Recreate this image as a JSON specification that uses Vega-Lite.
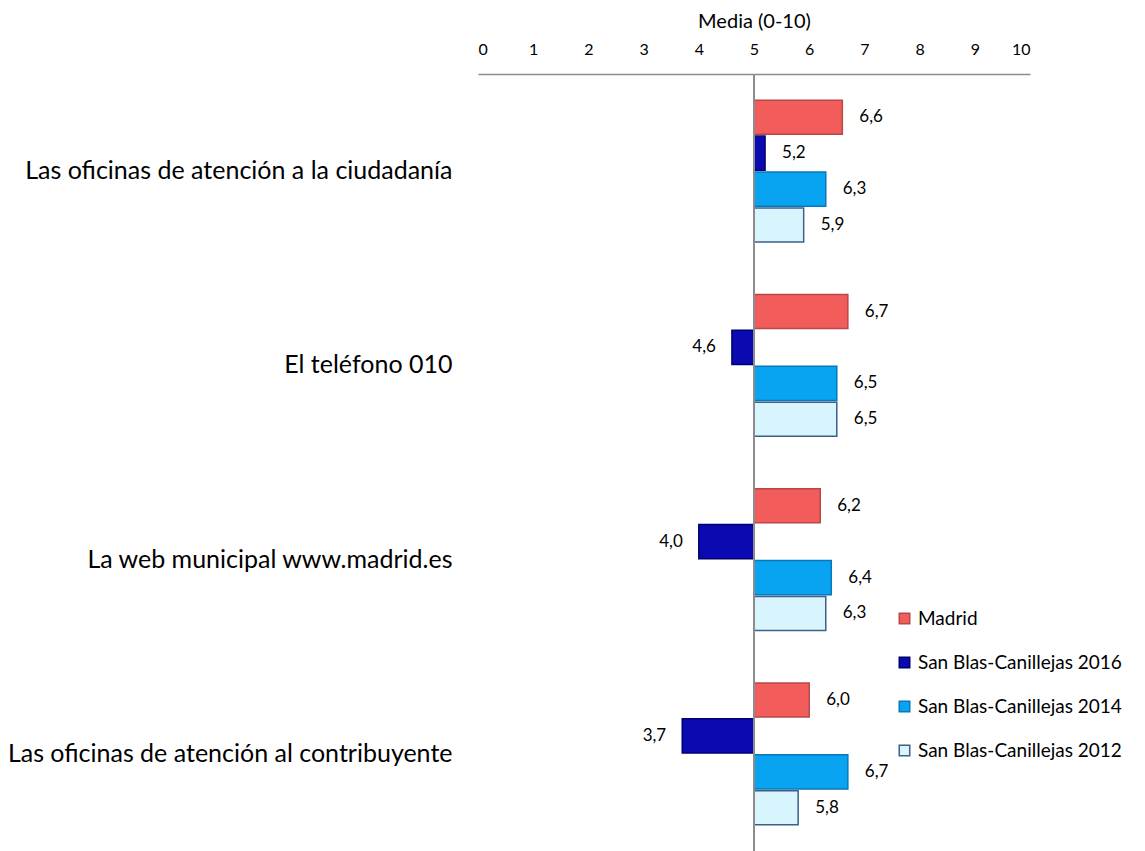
{
  "$schema": "https://vega.github.io/schema/vega-lite/v6.json",
  "width": 552,
  "height": 777,
  "autosize": {"type": "none"},
  "padding": {"left": 478, "top": 74, "right": 115, "bottom": 0},
  "background": "white",
  "config": {
    "font": "Lato",
    "view": {"stroke": null},
    "locale": {"number": {"decimal": ",", "thousands": ".", "grouping": [3], "currency": ["", " €"]}}
  },
  "data": {
    "values": [
      {"servicio": "Las oficinas de atención a la ciudadanía", "serie": "Madrid", "valor": 6.6},
      {"servicio": "Las oficinas de atención a la ciudadanía", "serie": "San Blas-Canillejas 2016", "valor": 5.2},
      {"servicio": "Las oficinas de atención a la ciudadanía", "serie": "San Blas-Canillejas 2014", "valor": 6.3},
      {"servicio": "Las oficinas de atención a la ciudadanía", "serie": "San Blas-Canillejas 2012", "valor": 5.9},
      {"servicio": "El teléfono 010", "serie": "Madrid", "valor": 6.7},
      {"servicio": "El teléfono 010", "serie": "San Blas-Canillejas 2016", "valor": 4.6},
      {"servicio": "El teléfono 010", "serie": "San Blas-Canillejas 2014", "valor": 6.5},
      {"servicio": "El teléfono 010", "serie": "San Blas-Canillejas 2012", "valor": 6.5},
      {"servicio": "La web municipal www.madrid.es", "serie": "Madrid", "valor": 6.2},
      {"servicio": "La web municipal www.madrid.es", "serie": "San Blas-Canillejas 2016", "valor": 4.0},
      {"servicio": "La web municipal www.madrid.es", "serie": "San Blas-Canillejas 2014", "valor": 6.4},
      {"servicio": "La web municipal www.madrid.es", "serie": "San Blas-Canillejas 2012", "valor": 6.3},
      {"servicio": "Las oficinas de atención al contribuyente", "serie": "Madrid", "valor": 6.0},
      {"servicio": "Las oficinas de atención al contribuyente", "serie": "San Blas-Canillejas 2016", "valor": 3.7},
      {"servicio": "Las oficinas de atención al contribuyente", "serie": "San Blas-Canillejas 2014", "valor": 6.7},
      {"servicio": "Las oficinas de atención al contribuyente", "serie": "San Blas-Canillejas 2012", "valor": 5.8}
    ]
  },
  "encoding": {
    "y": {
      "field": "servicio",
      "type": "nominal",
      "sort": null,
      "scale": {"paddingInner": 0.27, "paddingOuter": 0.135},
      "axis": {
        "title": null,
        "domain": false,
        "ticks": false,
        "labelFontSize": 25,
        "labelColor": "#000000",
        "labelPadding": 26,
        "labelLimit": 480
      }
    },
    "yOffset": {
      "field": "serie",
      "type": "nominal",
      "sort": ["Madrid", "San Blas-Canillejas 2016", "San Blas-Canillejas 2014", "San Blas-Canillejas 2012"],
      "scale": {"paddingInner": 0.05}
    }
  },
  "layer": [
    {
      "mark": {"type": "bar", "strokeWidth": 1.5},
      "encoding": {
        "x": {
          "field": "valor",
          "type": "quantitative",
          "scale": {"domain": [0, 10], "nice": false, "zero": false},
          "axis": {
            "orient": "top",
            "title": "Media (0-10)",
            "titleFontSize": 20,
            "titleFontWeight": "normal",
            "titleColor": "#000000",
            "titlePadding": 10,
            "values": [0, 1, 2, 3, 4, 5, 6, 7, 8, 9, 10],
            "format": "d",
            "labelFontSize": 16,
            "labelColor": "#000000",
            "labelPadding": 17,
            "ticks": false,
            "grid": false,
            "domainColor": "#8c8c8c",
            "domainWidth": 1.5
          }
        },
        "x2": {"datum": 5},
        "color": {
          "field": "serie",
          "type": "nominal",
          "sort": ["Madrid", "San Blas-Canillejas 2016", "San Blas-Canillejas 2014", "San Blas-Canillejas 2012"],
          "scale": {
            "domain": ["Madrid", "San Blas-Canillejas 2016", "San Blas-Canillejas 2014", "San Blas-Canillejas 2012"],
            "range": ["#f25c5a", "#0a0ab0", "#08a4f2", "#d8f4fc"]
          },
          "legend": {
            "title": null,
            "orient": "none",
            "legendX": 417,
            "legendY": 535,
            "symbolType": "square",
            "symbolSize": 110,
            "symbolStrokeWidth": 1.5,
            "labelFontSize": 19,
            "labelColor": "#000000",
            "labelOffset": 4,
            "labelLimit": 300,
            "rowPadding": 24
          }
        },
        "stroke": {
          "field": "serie",
          "type": "nominal",
          "scale": {
            "domain": ["Madrid", "San Blas-Canillejas 2016", "San Blas-Canillejas 2014", "San Blas-Canillejas 2012"],
            "range": ["#b84848", "#000070", "#0878b8", "#3d5f8a"]
          },
          "legend": null
        }
      }
    },
    {
      "transform": [{"filter": "datum.valor >= 5"}],
      "mark": {"type": "text", "align": "left", "baseline": "middle", "dx": 17, "fontSize": 17, "color": "#000000"},
      "encoding": {
        "x": {"field": "valor", "type": "quantitative"},
        "text": {"field": "valor", "type": "quantitative", "format": ".1f"}
      }
    },
    {
      "transform": [{"filter": "datum.valor < 5"}],
      "mark": {"type": "text", "align": "right", "baseline": "middle", "dx": -16, "fontSize": 17, "color": "#000000"},
      "encoding": {
        "x": {"field": "valor", "type": "quantitative"},
        "text": {"field": "valor", "type": "quantitative", "format": ".1f"}
      }
    },
    {
      "mark": {"type": "rule", "color": "#8c8c8c", "strokeWidth": 1.5},
      "encoding": {
        "x": {"datum": 5},
        "y": null,
        "yOffset": null
      }
    }
  ]
}
